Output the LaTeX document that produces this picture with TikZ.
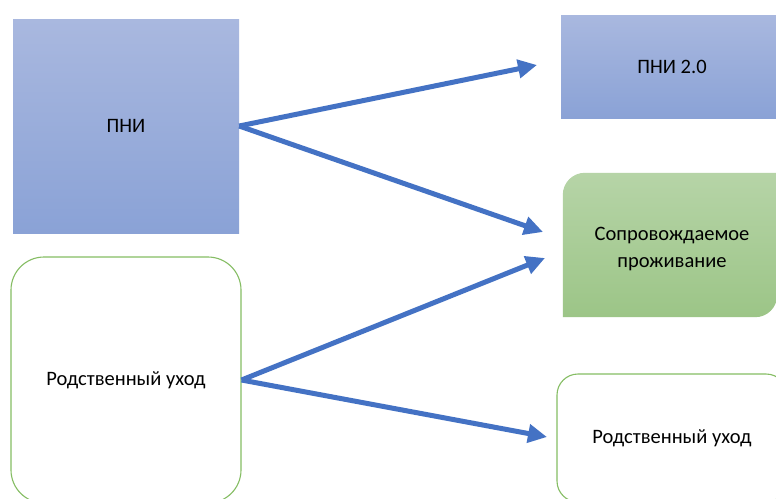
\documentclass[tikz,border=0pt]{standalone}
\usepackage{fontspec}
\setmainfont{Carlito}
\usetikzlibrary{arrows.meta}
\definecolor{arrowblue}{HTML}{4472C4}
\definecolor{bluetop}{HTML}{A9B8DF}
\definecolor{bluebot}{HTML}{8AA2D6}
\definecolor{greentop}{HTML}{B6D4A7}
\definecolor{greenbot}{HTML}{9CC587}
\definecolor{greenline}{HTML}{85BD63}
\tikzset{
  lbl/.style={font=\fontsize{20.5}{25}\selectfont, text=black, align=center},
  bluebox/.style={lbl, top color=bluetop, bottom color=bluebot, draw=none, inner sep=0pt},
  outlinebox/.style={lbl, draw=greenline, line width=1.1pt, fill=white, inner sep=0pt},
  arr/.style={draw=arrowblue, line width=5pt, -{Triangle[length=19pt,width=18pt]}}
}
\begin{document}
\begin{tikzpicture}[x=1pt,y=-1pt]
\clip (0,0) rectangle (776,498);
\fill[white] (0,0) rectangle (776,498);
% boxes
\node[bluebox, minimum width=226pt, minimum height=214pt] (pni) at (126,126) {ПНИ};
\node[bluebox, minimum width=222pt, minimum height=103pt] (pni2) at (672,66.5) {ПНИ 2.0};
\node[outlinebox, rounded corners=33pt, minimum width=230pt, minimum height=246pt] (rodL) at (126,380) {Родственный уход};
\node[outlinebox, rounded corners=21pt, minimum width=230pt, minimum height=128pt] (rodR) at (672,438) {Родственный уход};
% supported living: diagonal rounded corners
\node[inner sep=0pt, minimum width=214pt, minimum height=144pt] (sop) at (670,245) {};
\shade[top color=greentop, bottom color=greenbot]
  (sop.west) [sharp corners] -- (sop.south west) -- (sop.south)
  [rounded corners=22pt] -- (sop.south east) -- (sop.east)
  [sharp corners] -- (sop.north east) -- (sop.north)
  [rounded corners=22pt] -- (sop.north west) -- cycle;
\node[lbl] (soptext) at (672,249) {Сопровождаемое\\[2pt]проживание};
% arrow ends
\coordinate (e1) at (537,65);
\coordinate (e2) at (543,232);
\coordinate (e3) at (545,258);
\coordinate (e4) at (547,437);
\draw[arr] (pni.east) -- (e1);
\draw[arr] (pni.east) -- (e2);
\draw[arr] (rodL.east) -- (e3);
\draw[arr] (rodL.east) -- (e4);
\end{tikzpicture}
\end{document}
